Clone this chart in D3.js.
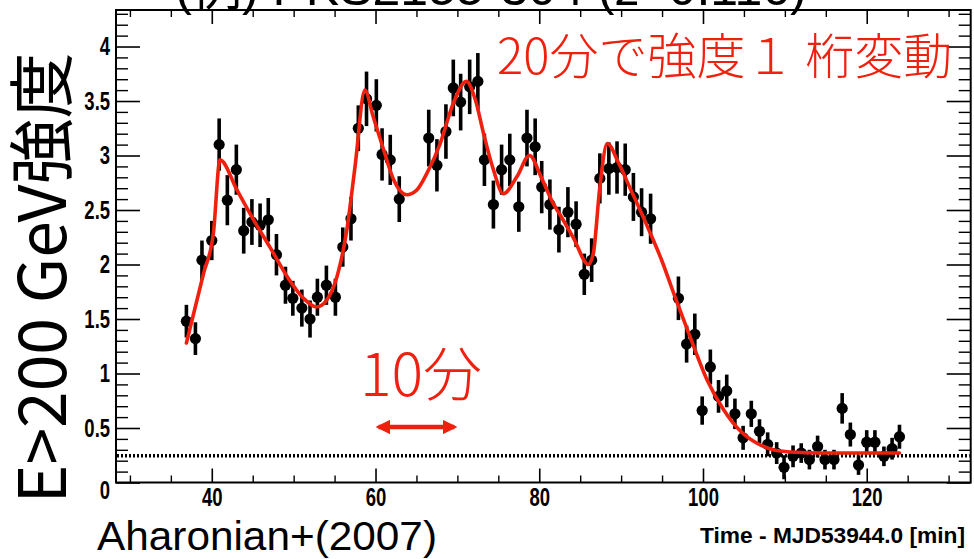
<!DOCTYPE html>
<html>
<head>
<meta charset="utf-8">
<script src="https://cdn.jsdelivr.net/npm/d3@7"></script>
<style>
  html, body { margin: 0; padding: 0; background: #fff; }
  svg { display: block; }
</style>
</head>
<body>
<script>
// ---------------- DATA ----------------
const times = [36.9, 38.0, 38.8, 40.0, 40.9, 41.9, 43.0, 43.9, 44.9, 45.9, 46.9, 47.9, 49.0, 49.9, 51.0, 52.0, 52.9, 54.0, 55.1, 56.0, 57.0, 57.9, 58.9, 60.1, 60.8, 61.8, 62.9, 66.5, 67.5, 68.6, 69.5, 70.4, 71.5, 72.5, 73.3, 74.4, 75.4, 76.4, 77.5, 78.5, 79.5, 80.3, 81.3, 82.4, 83.5, 84.5, 85.5, 86.4, 87.4, 88.5, 89.5, 90.5, 91.5, 92.5, 93.6, 97.0, 98.0, 99.0, 99.9, 100.9, 101.9, 102.9, 103.9, 104.9, 105.9, 106.9, 107.9, 109.0, 109.9, 111.0, 112.0, 113.0, 114.0, 114.9, 116.0, 117.0, 118.0, 119.0, 120.0, 121.0, 122.1, 123.1, 124.0];
const flux = [1.48, 1.32, 2.04, 2.22, 3.10, 2.59, 2.87, 2.31, 2.39, 2.36, 2.41, 2.09, 1.81, 1.69, 1.60, 1.50, 1.70, 1.81, 1.70, 2.16, 2.42, 3.25, 3.52, 3.46, 3.01, 2.96, 2.60, 3.16, 2.91, 3.22, 3.62, 3.49, 3.63, 3.68, 2.96, 2.55, 2.87, 2.96, 2.53, 3.16, 3.08, 2.71, 2.55, 2.32, 2.48, 2.37, 1.91, 2.04, 2.79, 2.88, 2.89, 2.87, 2.62, 2.48, 2.42, 1.69, 1.27, 1.36, 0.66, 1.06, 0.79, 0.84, 0.63, 0.41, 0.63, 0.47, 0.35, 0.27, 0.14, 0.24, 0.27, 0.21, 0.33, 0.21, 0.21, 0.68, 0.44, 0.16, 0.37, 0.37, 0.24, 0.31, 0.42];
const fluxErr = [0.15, 0.15, 0.18, 0.18, 0.24, 0.23, 0.23, 0.21, 0.21, 0.20, 0.20, 0.19, 0.17, 0.16, 0.17, 0.17, 0.17, 0.18, 0.17, 0.18, 0.20, 0.21, 0.25, 0.24, 0.24, 0.23, 0.21, 0.26, 0.24, 0.25, 0.26, 0.26, 0.25, 0.26, 0.24, 0.22, 0.23, 0.24, 0.23, 0.26, 0.26, 0.24, 0.23, 0.21, 0.23, 0.21, 0.19, 0.20, 0.23, 0.24, 0.24, 0.24, 0.22, 0.22, 0.23, 0.20, 0.17, 0.19, 0.13, 0.16, 0.15, 0.15, 0.14, 0.11, 0.12, 0.11, 0.11, 0.10, 0.11, 0.10, 0.09, 0.09, 0.10, 0.09, 0.09, 0.14, 0.11, 0.09, 0.11, 0.11, 0.09, 0.10, 0.11];

const fitT = [36.9, 39.0, 40.2, 41.0, 43.1, 45.1, 47.1, 49.2, 51.2, 52.8, 54.0, 55.3, 56.5, 57.5, 58.7, 59.7, 61.0, 62.2, 63.8, 65.0, 66.3, 67.9, 69.5, 71.1, 72.2, 73.2, 74.4, 75.6, 77.3, 78.8, 80.3, 81.7, 82.6, 84.2, 86.0, 86.6, 87.4, 88.3, 89.7, 91.1, 93.2, 95.0, 96.4, 98.4, 100.5, 102.5, 104.6, 106.6, 108.6, 110.7, 114.7, 124.0];
const fitV = [1.28, 1.92, 2.29, 2.96, 2.68, 2.41, 2.16, 1.89, 1.69, 1.61, 1.67, 1.89, 2.32, 2.90, 3.60, 3.36, 3.05, 2.78, 2.64, 2.68, 2.84, 3.11, 3.48, 3.68, 3.51, 3.20, 2.87, 2.65, 2.81, 3.00, 2.79, 2.56, 2.45, 2.24, 2.00, 2.10, 2.71, 3.11, 2.93, 2.70, 2.35, 2.03, 1.74, 1.34, 0.94, 0.67, 0.47, 0.36, 0.30, 0.28, 0.27, 0.27];

const baselineLevel = 0.245;
const xMajorTicks = [40, 60, 80, 100, 120];
const xMinorTicks = [30, 35, 45, 50, 55, 65, 70, 75, 85, 90, 95, 105, 110, 115, 125, 130];
const yMajorTicks = [0, 0.5, 1, 1.5, 2, 2.5, 3, 3.5, 4];
const yMinorTicks = [0.1, 0.2, 0.3, 0.4, 0.6, 0.7, 0.8, 0.9, 1.1, 1.2, 1.3, 1.4, 1.6, 1.7, 1.8, 1.9, 2.1, 2.2, 2.3, 2.4, 2.6, 2.7, 2.8, 2.9, 3.1, 3.2, 3.3, 3.4, 3.6, 3.7, 3.8, 3.9, 4.1, 4.2, 4.3];
const scaleArrow = [60, 70];

const titleText = "(例) PKS2155-304 (z=0.116)";
const noteText = "20分で強度１ 桁変動";
const arrowText = "10分";
const yTitle = "E>200 GeV強度";
const xTitle = "Time - MJD53944.0 [min]";
const citeText = "Aharonian+(2007)";

// ---------------- LAYOUT ----------------
const W = 974, H = 559;
const L = 116, R = 970.7, T = 10, B = 482.5;
const red = "#f0200f";
const tickFont = "'Liberation Sans', Arial, sans-serif";
const jpFont = "'Noto Sans CJK JP', 'Noto Sans', sans-serif";

const svg = d3.select("body").append("svg").attr("width", W).attr("height", H);
svg.append("rect").attr("width", W).attr("height", H).attr("fill", "#fff");

const x = d3.scaleLinear().domain([28.3, 132.7]).range([L, R]);
const y = d3.scaleLinear().domain([0, 4.335]).range([B, T]);

// title (cut off at top, as in the reference)
svg.append("text").attr("x", 491).attr("y", 5).attr("text-anchor", "middle")
  .attr("font-family", "'Liberation Sans', " + jpFont).attr("font-size", 50).attr("fill", "#000")
  .text(titleText);

// axes
function styleAxis(g, sw) {
  g.select(".domain").remove();
  g.selectAll(".tick line").attr("stroke", "#000").attr("stroke-width", sw);
  g.selectAll(".tick text").attr("font-family", tickFont).attr("font-weight", "bold")
    .attr("font-size", 25).attr("fill", "#000").attr("transform", "scale(0.74,1)");
}
const fmtY = d => d3.format("~g")(d);

svg.append("g").attr("transform", `translate(0,${B})`)
  .call(d3.axisBottom(x).tickValues(xMajorTicks).tickSize(-14).tickPadding(6).tickFormat(d3.format("d")))
  .call(g => styleAxis(g, 1.6));
svg.append("g").attr("transform", `translate(0,${B})`)
  .call(d3.axisBottom(x).tickValues(xMinorTicks).tickSize(-7).tickFormat(""))
  .call(g => styleAxis(g, 1.4));
svg.append("g").attr("transform", `translate(0,${T})`)
  .call(d3.axisTop(x).tickValues(xMajorTicks).tickSize(-14).tickFormat(""))
  .call(g => styleAxis(g, 1.6));
svg.append("g").attr("transform", `translate(0,${T})`)
  .call(d3.axisTop(x).tickValues(xMinorTicks).tickSize(-7).tickFormat(""))
  .call(g => styleAxis(g, 1.4));

const gl = svg.append("g").attr("transform", `translate(${L},0)`)
  .call(d3.axisLeft(y).tickValues(yMajorTicks).tickSize(-24).tickPadding(8).tickFormat(fmtY))
  .call(g => styleAxis(g, 1.6));
gl.selectAll(".tick text").filter(d => d === 0).attr("dy", "0.62em");
svg.append("g").attr("transform", `translate(${L},0)`)
  .call(d3.axisLeft(y).tickValues(yMinorTicks).tickSize(-12).tickFormat(""))
  .call(g => styleAxis(g, 1.4));
svg.append("g").attr("transform", `translate(${R},0)`)
  .call(d3.axisRight(y).tickValues(yMajorTicks).tickSize(-24).tickFormat(""))
  .call(g => styleAxis(g, 1.6));
svg.append("g").attr("transform", `translate(${R},0)`)
  .call(d3.axisRight(y).tickValues(yMinorTicks).tickSize(-12).tickFormat(""))
  .call(g => styleAxis(g, 1.4));

// frame
svg.append("rect").attr("x", L).attr("y", T).attr("width", R - L).attr("height", B - T)
  .attr("fill", "none").attr("stroke", "#000").attr("stroke-width", 2);

// dotted baseline
svg.append("line").attr("x1", L + 1).attr("x2", R - 1)
  .attr("y1", y(baselineLevel)).attr("y2", y(baselineLevel))
  .attr("stroke", "#000").attr("stroke-width", 3.5).attr("stroke-dasharray", "2,2");

// data points with error bars
const pts = times.map((t, i) => ({ t, v: flux[i], e: fluxErr[i] }));
const gp = svg.append("g");
gp.selectAll("line.err").data(pts).join("line").attr("class", "err")
  .attr("x1", d => x(d.t)).attr("x2", d => x(d.t))
  .attr("y1", d => y(d.v - d.e)).attr("y2", d => y(d.v + d.e))
  .attr("stroke", "#000").attr("stroke-width", 3.6);
gp.selectAll("circle").data(pts).join("circle")
  .attr("cx", d => x(d.t)).attr("cy", d => y(d.v)).attr("r", 5.6).attr("fill", "#000");

// fit curve
const fit = fitT.map((t, i) => [t, fitV[i]]);
svg.append("path").datum(fit)
  .attr("d", d3.line().x(d => x(d[0])).y(d => y(d[1])).curve(d3.curveMonotoneX))
  .attr("fill", "none").attr("stroke", red).attr("stroke-width", 3.6)
  .attr("stroke-linejoin", "round").attr("stroke-linecap", "round");

// annotations
svg.append("text").attr("x", 497).attr("y", 74)
  .attr("font-family", jpFont).attr("font-size", 49).attr("font-weight", 300).attr("fill", red)
  .text(noteText);
svg.append("text").attr("x", 421).attr("y", 396).attr("text-anchor", "middle")
  .attr("font-family", jpFont).attr("font-size", 59).attr("font-weight", 300).attr("fill", red)
  .text(arrowText);

// double arrow for 10 min
const defs = svg.append("defs");
defs.append("marker").attr("id", "ah").attr("viewBox", "0 0 10 10").attr("refX", 8).attr("refY", 5)
  .attr("markerWidth", 3.2).attr("markerHeight", 3.2).attr("orient", "auto-start-reverse")
  .attr("markerUnits", "strokeWidth")
  .append("path").attr("d", "M0,0 L10,5 L0,10 Z").attr("fill", red);
svg.append("line")
  .attr("x1", x(scaleArrow[0]) + 3).attr("x2", x(scaleArrow[1]) - 3)
  .attr("y1", 427).attr("y2", 427)
  .attr("stroke", red).attr("stroke-width", 4.5)
  .attr("marker-start", "url(#ah)").attr("marker-end", "url(#ah)");

// axis titles
svg.append("text").attr("transform", "translate(66,278) rotate(-90)").attr("text-anchor", "middle")
  .attr("font-family", jpFont).attr("font-size", 66).attr("fill", "#000")
  .text(yTitle);
svg.append("text").attr("x", 965).attr("y", 543).attr("text-anchor", "end")
  .attr("font-family", tickFont).attr("font-weight", "bold").attr("font-size", 22).attr("fill", "#000")
  .attr("textLength", 265).attr("lengthAdjust", "spacingAndGlyphs")
  .text(xTitle);
svg.append("text").attr("x", 97).attr("y", 550)
  .attr("font-family", "'Liberation Sans', Arial, sans-serif").attr("font-size", 41).attr("fill", "#000")
  .attr("textLength", 340).attr("lengthAdjust", "spacingAndGlyphs")
  .text(citeText);
</script>
</body>
</html>
